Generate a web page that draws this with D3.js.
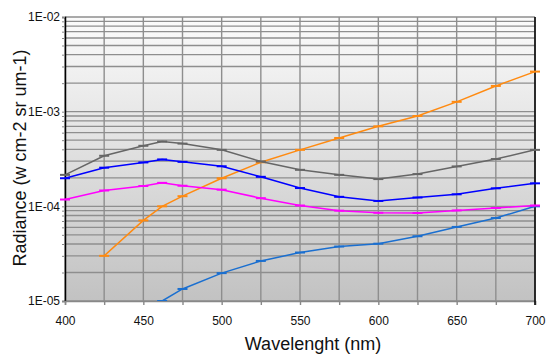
<!DOCTYPE html>
<html><head><meta charset="utf-8">
<script src="https://cdn.jsdelivr.net/npm/d3@7"></script>
<style>body{margin:0;background:#fff}svg{display:block;font-family:"Liberation Sans",Arial,sans-serif}</style>
</head><body><svg id="c" width="550" height="356"></svg>
<script>
const wavelengths = [400, 425, 450, 462, 475, 500, 525, 550, 575, 600, 625, 650, 675, 700];
const grayVals    = [2.15e-4, 3.42e-4, 4.36e-4, 4.84e-4, 4.6e-4, 3.95e-4, 2.98e-4, 2.43e-4, 2.15e-4, 1.94e-4, 2.19e-4, 2.64e-4, 3.16e-4, 3.95e-4];
const blueVals    = [1.98e-4, 2.56e-4, 2.91e-4, 3.13e-4, 2.95e-4, 2.65e-4, 2.05e-4, 1.56e-4, 1.26e-4, 1.14e-4, 1.24e-4, 1.34e-4, 1.55e-4, 1.75e-4];
const magentaVals = [1.18e-4, 1.47e-4, 1.64e-4, 1.77e-4, 1.65e-4, 1.50e-4, 1.22e-4, 1.02e-4, 0.90e-4, 0.855e-4, 0.85e-4, 0.905e-4, 0.96e-4, 1.02e-4];
const orangeVals  = [null, 3.0e-5, 7.1e-5, 1.0e-4, 1.28e-4, 1.98e-4, 2.92e-4, 3.95e-4, 5.27e-4, 7.0e-4, 9.0e-4, 1.27e-3, 1.87e-3, 2.65e-3];
const skyVals     = [null, null, null, 1.0e-5, 1.34e-5, 1.97e-5, 2.65e-5, 3.25e-5, 3.76e-5, 4.03e-5, 4.83e-5, 6.06e-5, 7.52e-5, 1.0e-4];
const yTickLabels = ["1E-05", "1E-04", "1E-03", "1E-02"];
const xTicks = [400, 450, 500, 550, 600, 650, 700];

const series = [
  {vals: skyVals, color: "#1a6fd0"},
  {vals: orangeVals, color: "#ff8a10"},
  {vals: magentaVals, color: "#ff00ff"},
  {vals: blueVals, color: "#0000ff"},
  {vals: grayVals, color: "#666666"}
];

const svg = d3.select("#c");
const L = 65, R = 535, T = 17, B = 301;
const x = d3.scaleLinear().domain([400, 700]).range([L, R]);
const y = d3.scaleLog().domain([1e-5, 1e-2]).range([B, T]);

const defs = svg.append("defs");
const grad = defs.append("linearGradient").attr("id", "bg").attr("x1", 0).attr("y1", 0).attr("x2", 0).attr("y2", 1);
grad.append("stop").attr("offset", "0%").attr("stop-color", "#fbfbfb");
grad.append("stop").attr("offset", "100%").attr("stop-color", "#c2c2c2");
defs.append("clipPath").attr("id", "clip").append("rect").attr("x", L - 6).attr("y", T).attr("width", R - L + 12).attr("height", B - T);

svg.append("rect").attr("x", L).attr("y", T).attr("width", R - L).attr("height", B - T).attr("fill", "url(#bg)");

// grid lines
const minorY = [];
for (let e = -5; e < -2; e++) for (let m = 1; m <= 9; m++) minorY.push(m * Math.pow(10, e));
minorY.push(1e-2);
svg.append("g").selectAll("line").data(minorY).join("line")
  .attr("x1", L).attr("x2", R).attr("y1", d => y(d)).attr("y2", d => y(d))
  .attr("stroke", "#8e8e8e").attr("stroke-width", 1.4);
const xGrid = d3.range(400, 701, 25);
svg.append("g").selectAll("line").data(xGrid).join("line")
  .attr("x1", d => x(d)).attr("x2", d => x(d)).attr("y1", T).attr("y2", B)
  .attr("stroke", "#8e8e8e").attr("stroke-width", 1.4);

// axes
const yAxis = d3.axisLeft(y).tickValues(minorY).tickSize(3).tickFormat(d => {
  const i = [1e-5, 1e-4, 1e-3, 1e-2].findIndex(v => Math.abs(v - d) / v < 1e-6);
  return i >= 0 ? yTickLabels[i] : "";
});
const gy = svg.append("g").attr("transform", `translate(${L},0)`).call(yAxis);
gy.select(".domain").attr("stroke", "#000").attr("stroke-width", 1.5);
gy.selectAll(".tick line").attr("stroke", "#888");
gy.selectAll("text").attr("font-size", 12).attr("fill", "#111").attr("x", -5).attr("font-family", "Liberation Sans, Arial, sans-serif");

const xAxis = d3.axisBottom(x).tickValues(xGrid).tickSize(4).tickFormat(d => xTicks.includes(d) ? d : "");
const gx = svg.append("g").attr("transform", `translate(0,${B})`).call(xAxis);
gx.select(".domain").attr("stroke", "#888").attr("stroke-width", 1.5);
gx.selectAll(".tick line").attr("stroke", "#888").attr("stroke-width", 1.4);
gx.selectAll("text").attr("font-size", 12).attr("fill", "#111").attr("y", 15).attr("font-family", "Liberation Sans, Arial, sans-serif");

svg.append("line").attr("x1", R).attr("x2", R).attr("y1", T).attr("y2", B + 4).attr("stroke", "#000").attr("stroke-width", 1.5);

// series
const plot = svg.append("g").attr("clip-path", "url(#clip)");
series.forEach(s => {
  const pts = wavelengths.map((w, i) => [w, s.vals[i]]).filter(p => p[1] != null);
  const line = d3.line().x(p => x(p[0])).y(p => y(p[1]));
  plot.append("path").datum(pts).attr("d", line).attr("fill", "none")
    .attr("stroke", s.color).attr("stroke-width", 1.5);
  plot.append("g").selectAll("line").data(pts).join("line")
    .attr("x1", p => x(p[0]) - 5).attr("x2", p => x(p[0]) + 5)
    .attr("y1", p => y(p[1])).attr("y2", p => y(p[1]))
    .attr("stroke", s.color).attr("stroke-width", 2);
});

// titles
svg.append("text").attr("x", 313).attr("y", 350).attr("text-anchor", "middle")
  .attr("font-size", 18).attr("fill", "#111").text("Wavelenght (nm)");
svg.append("text").attr("transform", "translate(26,158) rotate(-90)").attr("text-anchor", "middle")
  .attr("font-size", 18).attr("fill", "#111").text("Radiance (w cm-2 sr um-1)");
</script></body></html>
